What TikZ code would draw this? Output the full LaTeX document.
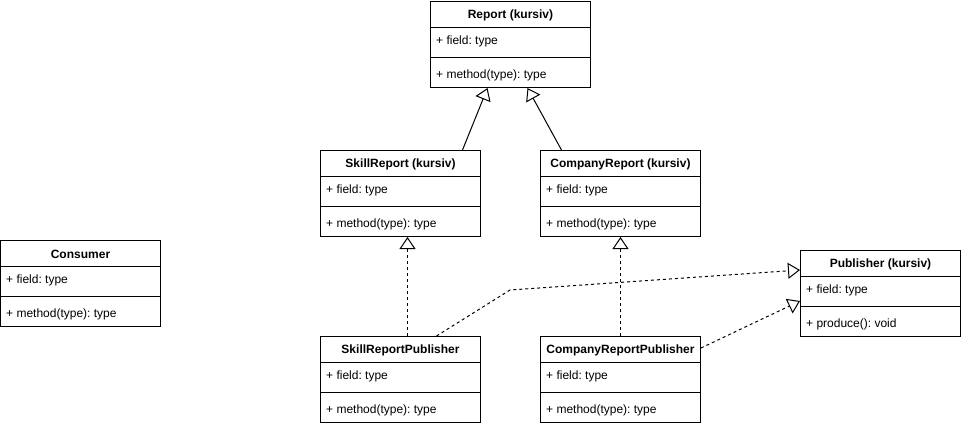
\documentclass[tikz,border=0pt]{standalone}
\usepackage{fontspec}
\setmainfont{Liberation Sans}
\frenchspacing
\usepackage{tikz}
\usetikzlibrary{arrows.meta,positioning,calc}
\tikzset{
  classbox/.style={
    draw=black,
    line width=1pt,
    fill=white,
    minimum width=160pt,
    minimum height=86pt,
    inner sep=0pt
  },
  classtitle/.style={
    font=\fontsize{12}{14}\selectfont\bfseries,
    inner sep=0pt
  },
  classtext/.style={
    font=\fontsize{12}{14}\selectfont,
    inner sep=0pt
  },
  divider/.style={
    draw=black,
    line width=1pt
  },
  inherit/.style={
    -{Triangle[open,length=12pt,width=16pt]},
    line width=1pt,
    draw=black
  },
  realize/.style={
    -{Triangle[open,length=12pt,width=16pt]},
    line width=1pt,
    draw=black,
    dash pattern=on 3pt off 3pt
  }
}
% one class box: name, north west corner, title, field, method
\newcommand{\umlclass}[5]{%
  \node[classbox, anchor=north west] (#1) at (#2) {};
  \node[classtitle] (#1-title) at ([yshift=-14.5pt]#1.north) {#3};
  \draw[divider] ([yshift=-26pt]#1.north west) -- ([yshift=-26pt]#1.north east);
  \node[classtext, anchor=west] (#1-field) at ([xshift=6pt,yshift=-40.5pt]#1.north west) {#4};
  \draw[divider] ([yshift=-56pt]#1.north west) -- ([yshift=-56pt]#1.north east);
  \node[classtext, anchor=west] (#1-method) at ([xshift=6pt,yshift=-74pt]#1.north west) {#5};
}

\begin{document}
\begin{tikzpicture}[x=1pt,y=-1pt]
\useasboundingbox (0,0) rectangle (961,426);
\umlclass{report}{430,1}{Report (kursiv)}{+ field: type}{+ method(type): type}
\umlclass{skill}{320,150}{SkillReport (kursiv)}{+ field: type}{+ method(type): type}
\umlclass{company}{540,150}{CompanyReport (kursiv)}{+ field: type}{+ method(type): type}
\umlclass{consumer}{0,240}{Consumer}{+ field: type}{+ method(type): type}
\umlclass{publisher}{800,250}{Publisher (kursiv)}{+ field: type}{+ produce(): void}
\umlclass{skillpub}{320,336}{SkillReportPublisher}{+ field: type}{+ method(type): type}
\umlclass{companypub}{540,336}{CompanyReportPublisher}{+ field: type}{+ method(type): type}
\coordinate (bend) at (510,290);
% generalization
\draw[inherit] ([xshift=62pt]skill.north) -- ([xshift=-23pt]report.south);
\draw[inherit] ([xshift=-59pt]company.north) -- ([xshift=17pt]report.south);
% realization
\draw[realize] ([xshift=7pt]skillpub.north) -- ([xshift=7pt]skill.south);
\draw[realize] (companypub.north) -- (company.south);
\draw[realize] ([xshift=36pt]skillpub.north) -- (bend) -- ([yshift=-20pt]publisher.north west);
\draw[realize] ([yshift=-12pt]companypub.north east) -- ([yshift=-51pt]publisher.north west);
\end{tikzpicture}
\end{document}
